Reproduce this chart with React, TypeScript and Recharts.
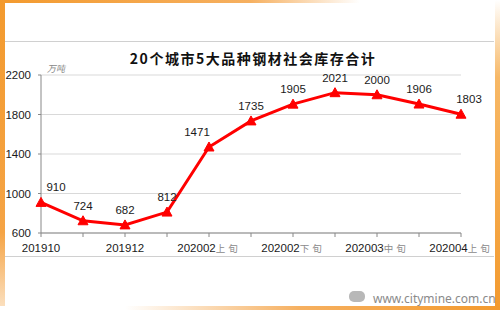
import React from "react";
import { LineChart, Line, XAxis, YAxis, CartesianGrid, LabelList } from "recharts";

const categories = [
  "201910", "201911", "201912", "202001",
  "202002上旬", "202002中旬", "202002下旬",
  "202003上旬", "202003中旬", "202003下旬", "202004上旬",
];
const stock = [910, 724, 682, 812, 1471, 1735, 1905, 2021, 2000, 1906, 1803];
const yTicks = [600, 1000, 1400, 1800, 2200];

const data = categories.map((c, i) => ({ name: c, value: stock[i] }));

const NUM_FONT = "'Liberation Sans', Arial, sans-serif";

function XTick(props: any) {
  const { x, y, payload } = props;
  if (payload.index % 2 !== 0) return null;
  const v: string = payload.value;
  const num = v.slice(0, 6);
  const suffix = v.slice(6);
  return (
    <text x={x} y={y + 13} textAnchor="middle" fontFamily={NUM_FONT}>
      <tspan fontSize={11.5} fill="#1a1a1a">{num}</tspan>
      {suffix && (
        <tspan fontSize={9.5} fill="#8a8a8a" letterSpacing={3} fontFamily="'Noto Sans CJK SC', sans-serif">
          {suffix}
        </tspan>
      )}
    </text>
  );
}

function Triangle(props: any) {
  const { cx, cy } = props;
  if (cx == null || cy == null) return null;
  return (
    <polygon
      points={`${cx},${cy - 5} ${cx - 5},${cy + 4} ${cx + 5},${cy + 4}`}
      fill="#ff0000"
      stroke="#ff0000"
    />
  );
}

function ValueLabel(props: any) {
  const { x, y, value, index } = props;
  let dx = 0;
  if (index === 0) dx = 15;
  if (index === 4) dx = -12;
  if (index === stock.length - 1) dx = 8;
  return (
    <text x={x + dx} y={y - 15} dy="0.35em" textAnchor="middle" fontSize={11.5} fill="#1a1a1a" fontFamily={NUM_FONT}>
      {value}
    </text>
  );
}

export default function App() {
  return (
    <div style={{ position: "absolute", left: 0, top: 0, width: 500, height: 310, background: "#fff", overflow: "hidden" }}>
      {/* orange frame */}
      <div style={{ position: "absolute", left: 0, top: 0, width: 5, height: 310, background: "linear-gradient(to bottom, #f39a2e 0%, #f5a445 75%, #fbe2c4 100%)" }} />
      <div style={{ position: "absolute", left: 0, top: 0, width: 500, height: 3, background: "linear-gradient(to right, #f39a2e 0%, #f6b060 50%, #fff 72%)" }} />
      <div style={{ position: "absolute", right: 0, top: 0, width: 5, height: 310, background: "linear-gradient(to bottom, #fff 0%, #f7b866 25%, #f39a2e 100%)" }} />
      <div style={{ position: "absolute", left: 0, bottom: 0, width: 500, height: 4, background: "linear-gradient(to right, #fff 0%, #fff 25%, #f6b060 60%, #f39a2e 100%)" }} />
      {/* separators */}
      <div style={{ position: "absolute", left: 5, top: 41, width: 489, height: 1, background: "#d0d0d0" }} />
      <div style={{ position: "absolute", left: 5, top: 256, width: 489, height: 1, background: "#d0d0d0" }} />

      <div style={{ position: "absolute", left: 0, top: 48, width: 506, textAlign: "center", fontFamily: "'Noto Sans CJK SC', sans-serif", fontWeight: 700, fontSize: 14, letterSpacing: 1.5, color: "#111" }}>
        20个城市5大品种钢材社会库存合计
      </div>
      <div style={{ position: "absolute", left: 47, top: 62, fontFamily: "'Noto Sans CJK SC', sans-serif", fontStyle: "italic", fontSize: 9, color: "#888" }}>
        万吨
      </div>

      <div style={{ position: "absolute", left: 0, top: 0 }}>
        <LineChart width={500} height={310} data={data} margin={{ top: 75, right: 39, bottom: 47, left: 0 }}>
          <CartesianGrid vertical={false} stroke="#d9d9d9" />
          <XAxis
            dataKey="name"
            interval={0}
            tick={<XTick />}
            tickSize={4}
            height={30}
            stroke="#888"
            padding={{ left: 0, right: 0 }}
          />
          <YAxis
            domain={[600, 2200]}
            ticks={yTicks}
            width={41}
            tickSize={3}
            tickMargin={7}
            stroke="#888"
            tick={{ fontSize: 11.5, fill: "#1a1a1a", fontFamily: NUM_FONT }}
          />
          <Line
            type="linear"
            dataKey="value"
            stroke="#ff0000"
            strokeWidth={3}
            dot={<Triangle />}
            activeDot={false}
            isAnimationActive={false}
          >
            <LabelList dataKey="value" content={<ValueLabel />} />
          </Line>
        </LineChart>
      </div>

      {/* watermark */}
      <div style={{ position: "absolute", left: 349, top: 291, width: 16, height: 11, borderRadius: 5, background: "#b8b8b8" }} />
      <div style={{ position: "absolute", left: 373, top: 290, fontFamily: "'Noto Sans', sans-serif", fontSize: 12, color: "#8a8a8a" }}>
        www.citymine.com.cn
      </div>
    </div>
  );
}
